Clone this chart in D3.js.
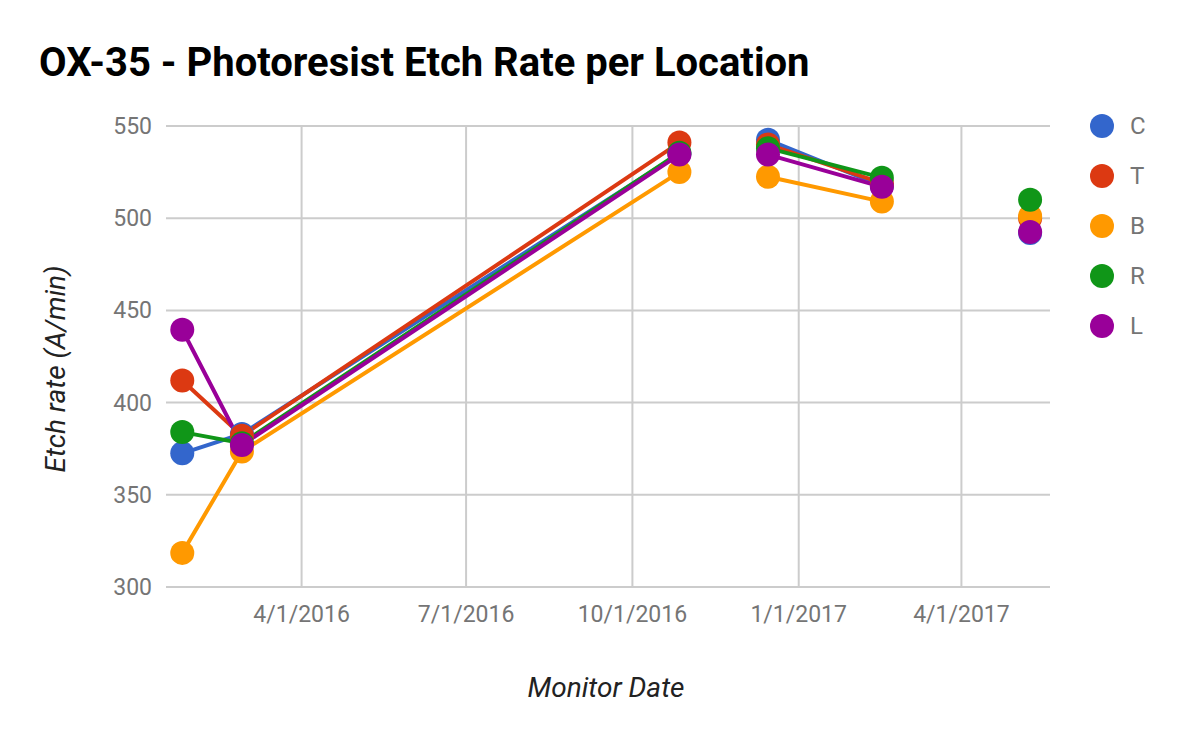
<!DOCTYPE html>
<html>
<head>
<meta charset="utf-8">
<script src="https://cdn.jsdelivr.net/npm/d3@7"></script>
<style>
  body { margin: 0; background: #fff; }
  text { font-family: Roboto, sans-serif; }
</style>
</head>
<body>
<svg id="chart"></svg>
<script>
// monitor dates (null rows break the lines, like the sheet does)
var dates = ["2016-01-26", "2016-02-28", "2016-10-27", "2016-11-20", "2016-12-15", "2017-02-16", "2017-03-30", "2017-05-09"];
var seriesNames = ["C", "T", "B", "R", "L"];
var valuesC = [372.5, 383, 535, null, 542.5, 517.5, null, 492];
var valuesT = [412, 382, 541, null, 540, 519, null, 500];
var valuesB = [318.5, 373.5, 525, null, 522.5, 509, null, 501];
var valuesR = [384, 378, 535.5, null, 538, 522, null, 510];
var valuesL = [439.5, 377, 534.5, null, 534.5, 517, null, 492.5];
var yTicks = [300, 350, 400, 450, 500, 550];
var xTicks = ["2016-04-01", "2016-07-01", "2016-10-01", "2017-01-01", "2017-04-01"];
var colors = ["#3366cc", "#dc3912", "#ff9900", "#109618", "#990099"];

var allValues = [valuesC, valuesT, valuesB, valuesR, valuesL];
var parse = d3.timeParse("%Y-%m-%d");
var fmt = d3.timeFormat("%-m/%-d/%Y");

var W = 1200, H = 742;
var plotLeft = 166, plotRight = 1050, plotTop = 126, plotBottom = 587;

var svg = d3.select('#chart')
	.attr('width', W)
	.attr('height', H);

var x = d3.scaleTime()
	.domain([parse("2016-01-17"), parse("2017-05-20")])
	.range([plotLeft, plotRight]);
var y = d3.scaleLinear()
	.domain([300, 550])
	.range([plotBottom, plotTop]);

// title
svg.append('text')
	.attr('x', 39)
	.attr('y', 76)
	.attr('font-size', 40)
	.attr('font-weight', 'bold')
	.attr('fill', '#000')
	.text("OX-35 - Photoresist Etch Rate per Location");

// gridlines
svg.append('g').selectAll('line')
	.data(yTicks)
	.enter().append('line')
	.attr('x1', plotLeft).attr('x2', plotRight)
	.attr('y1', function(d) { return y(d); })
	.attr('y2', function(d) { return y(d); })
	.attr('stroke', '#cccccc')
	.attr('stroke-width', 2);

svg.append('g').selectAll('line')
	.data(xTicks)
	.enter().append('line')
	.attr('x1', function(d) { return x(parse(d)); })
	.attr('x2', function(d) { return x(parse(d)); })
	.attr('y1', plotTop).attr('y2', plotBottom)
	.attr('stroke', '#cccccc')
	.attr('stroke-width', 2);

// tick labels
svg.append('g').selectAll('text')
	.data(yTicks)
	.enter().append('text')
	.attr('x', 152)
	.attr('y', function(d) { return y(d) + 8; })
	.attr('text-anchor', 'end')
	.attr('font-size', 23)
	.attr('fill', '#757575')
	.text(function(d) { return d; });

svg.append('g').selectAll('text')
	.data(xTicks)
	.enter().append('text')
	.attr('x', function(d) { return x(parse(d)); })
	.attr('y', 622)
	.attr('text-anchor', 'middle')
	.attr('font-size', 23)
	.attr('fill', '#757575')
	.text(function(d) { return fmt(parse(d)); });

// axis titles
svg.append('text')
	.attr('x', 606)
	.attr('y', 697)
	.attr('text-anchor', 'middle')
	.attr('font-size', 28)
	.attr('font-style', 'italic')
	.attr('fill', '#222')
	.text("Monitor Date");

svg.append('text')
	.attr('transform', 'translate(65,369) rotate(-90)')
	.attr('text-anchor', 'middle')
	.attr('font-size', 28)
	.attr('font-style', 'italic')
	.attr('fill', '#222')
	.text("Etch rate (A/min)");

// lines
var line = d3.line()
	.defined(function(d) { return d.v !== null; })
	.x(function(d) { return x(d.date); })
	.y(function(d) { return y(d.v); });

var series = seriesNames.map(function(name, i) {
	return {
		name: name,
		color: colors[i],
		points: dates.map(function(d, j) { return {date: parse(d), v: allValues[i][j]}; })
	};
});

svg.append('g').selectAll('path')
	.data(series)
	.enter().append('path')
	.attr('d', function(s) { return line(s.points); })
	.attr('fill', 'none')
	.attr('stroke', function(s) { return s.color; })
	.attr('stroke-width', 4);

// points
series.forEach(function(s) {
	svg.append('g').selectAll('circle')
		.data(s.points.filter(function(p) { return p.v !== null; }))
		.enter().append('circle')
		.attr('cx', function(p) { return x(p.date); })
		.attr('cy', function(p) { return y(p.v); })
		.attr('r', 12)
		.attr('fill', s.color);
});

// legend
var legend = svg.append('g').selectAll('g')
	.data(series)
	.enter().append('g')
	.attr('transform', function(s, i) { return 'translate(1102,' + (126 + i * 50) + ')'; });
legend.append('circle')
	.attr('r', 12)
	.attr('fill', function(s) { return s.color; });
legend.append('text')
	.attr('x', 28)
	.attr('y', 8)
	.attr('font-size', 24)
	.attr('fill', '#757575')
	.text(function(s) { return s.name; });
</script>
</body>
</html>
